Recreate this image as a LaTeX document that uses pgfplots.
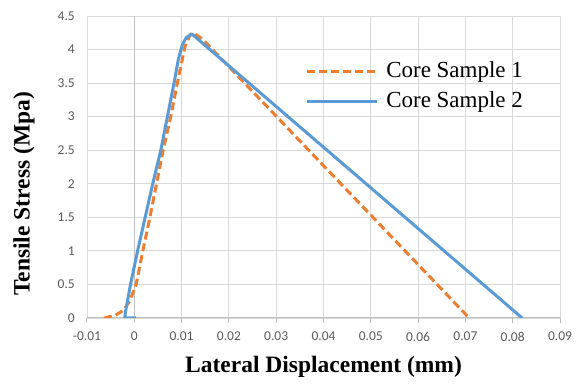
\documentclass[border=0pt]{standalone}
\usepackage{fontspec}
\setmainfont{Liberation Serif}
\newfontfamily\calibri{Carlito}
\usepackage{pgfplots}
\pgfplotsset{compat=1.18}
\definecolor{cOrange}{HTML}{ED7D31}
\definecolor{cBlue}{HTML}{5B9BD5}
\definecolor{cGrid}{HTML}{D9D9D9}
\definecolor{cAxis}{HTML}{BFBFBF}
\definecolor{cTick}{HTML}{595959}
\begin{document}
\begin{tikzpicture}
\begin{axis}[
  scale only axis,
  width=473pt, height=302pt,
  xmin=-0.01, xmax=0.09, ymin=0, ymax=4.5,
  scaled x ticks=false, scaled y ticks=false,
  xtick={-0.01,0,0.01,0.02,0.03,0.04,0.05,0.06,0.07,0.08,0.09},
  xticklabels={-0.01,0,0.01,0.02,0.03,0.04,0.05,0.06,0.07,0.08,0.09},
  ytick={0,0.5,1,1.5,2,2.5,3,3.5,4,4.5},
  yticklabels={0,0.5,1,1.5,2,2.5,3,3.5,4,4.5},
  extra x ticks={0}, extra x tick labels={},
  extra x tick style={grid style={color=cAxis, line width=1pt}, major tick length=0pt},
  grid=major,
  grid style={color=cGrid, line width=0.9pt},
  axis x line*=bottom,
  axis y line*=left,
  x axis line style={-, color=cAxis, line width=1pt},
  y axis line style={draw=none},
  tick align=outside,
  major tick length=5pt,
  xtick style={color=cAxis, line width=1pt},
  ytick style={draw=none},
  ticklabel style={font=\calibri\fontsize{13.5}{14}\selectfont, text=cTick},
  xticklabel style={anchor=north, inner sep=0pt, yshift=-9pt},
  yticklabel style={anchor=east, inner sep=0pt, xshift=-7pt},
  /pgf/number format/assume math mode=true,
  xlabel={Lateral Displacement (mm)},
  ylabel={Tensile Stress (Mpa)},
  label style={font=\bfseries\fontsize{23.5}{26}\selectfont, text=black},
  xlabel style={at={(axis description cs:0.5,-0.162)}, anchor=center},
  ylabel style={at={(axis description cs:-0.133,0.411)}, anchor=center},
  legend style={at={(axis description cs:0.461,0.765)}, anchor=west,
    draw=none, fill=none, inner sep=0pt,
    font=\fontsize{23}{25}\selectfont,
    nodes={inner sep=0pt, text height=16pt, text depth=5pt, anchor=west},
    column sep=8pt, row sep=9pt},
  legend cell align=left,
  legend image code/.code={\draw[#1] (0pt,0pt) -- (70pt,0pt);},
]
\addplot[color=cOrange, line width=3pt, dash pattern=on 8pt off 4pt] coordinates {
(-0.0064,0) (-0.0040,0.04) (-0.0022,0.12) (-0.0010,0.25) (0.0004,0.5)
(0.0018,1.0) (0.0033,1.5) (0.0047,2.0) (0.0061,2.5) (0.0077,3.0)
(0.0091,3.5) (0.0107,4.04) (0.0118,4.22) (0.0125,4.25) (0.0145,4.15)
(0.0708,0)
};
\addlegendentry{Core Sample 1}
\addplot[color=cBlue, line width=3pt, line join=round] coordinates {
(0.0004,0) (-0.0020,0) (-0.0019,0.08) (-0.0008,0.5) (0.0007,1.0)
(0.0023,1.5) (0.0039,2.0) (0.0056,2.5) (0.0070,3.0) (0.0084,3.5)
(0.0093,3.85) (0.0102,4.08) (0.0110,4.18) (0.0122,4.23) (0.0820,0)
};
\addlegendentry{Core Sample 2}
\end{axis}
\pgfresetboundingbox
\path ([xshift=-87pt,yshift=-68pt]current axis.south west) rectangle ([xshift=19pt,yshift=16pt]current axis.north east);
\end{tikzpicture}
\end{document}
